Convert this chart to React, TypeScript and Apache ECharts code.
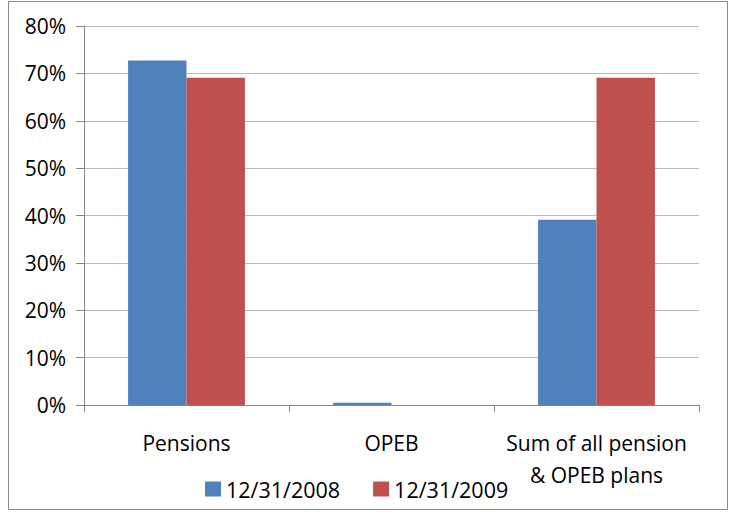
import React, { useEffect, useRef } from "react";
import * as echarts from "echarts";

const categories = ["Pensions", "OPEB", "Sum of all pension\n& OPEB plans"];
const seriesNames = ["12/31/2008", "12/31/2009"];
const values2008 = [72.7, 0.5, 39.1];
const values2009 = [69.1, 0, 69.1];
const yTicks = { min: 0, max: 80, interval: 10 };

const FONT = "'Open Sans', 'Noto Sans', sans-serif";

export default function App() {
  const ref = useRef<HTMLDivElement>(null);
  useEffect(() => {
    document.body.style.margin = "0";
    const chart = echarts.init(ref.current!, null, { renderer: "svg" });
    chart.setOption({
      animation: false,
      backgroundColor: "#ffffff",
      textStyle: { fontFamily: FONT },
      graphic: [
        {
          type: "rect",
          shape: { x: 8.5, y: 1.5, width: 719, height: 508 },
          style: { fill: "none", stroke: "#8c8c8c", lineWidth: 1 },
          silent: true,
        },
      ],
      grid: { left: 84, right: 31, top: 26, bottom: 107, containLabel: false },
      legend: {
        left: 200,
        top: 473,
        padding: 5,
        itemWidth: 16,
        itemHeight: 15,
        itemGap: 33,
        icon: "rect",
        textStyle: { fontSize: 21.5, color: "#000", fontFamily: FONT },
        data: seriesNames,
      },
      xAxis: {
        type: "category",
        data: categories,
        boundaryGap: true,
        axisLine: { lineStyle: { color: "#868686", width: 1 } },
        axisTick: { show: true, length: 7, alignWithLabel: false, lineStyle: { color: "#868686" } },
        axisLabel: {
          color: "#000",
          fontSize: 21,
          fontFamily: FONT,
          margin: 22,
          lineHeight: 32,
          interval: 0,
        },
        splitLine: { show: false },
      },
      yAxis: {
        type: "value",
        min: yTicks.min,
        max: yTicks.max,
        interval: yTicks.interval,
        axisLine: { show: true, lineStyle: { color: "#868686", width: 1 } },
        axisTick: { show: true, length: 8, lineStyle: { color: "#868686" } },
        axisLabel: {
          color: "#000",
          fontSize: 21,
          fontFamily: FONT,
          margin: 18,
          formatter: "{value}%",
        },
        splitLine: { show: true, lineStyle: { color: "#b9b9b9", width: 1 } },
      },
      series: [
        {
          name: seriesNames[0],
          type: "bar",
          data: values2008,
          barGap: "0%",
          barCategoryGap: "43%",
          itemStyle: { color: "#4F81BD" },
        },
        {
          name: seriesNames[1],
          type: "bar",
          data: values2009,
          barGap: "0%",
          barCategoryGap: "43%",
          itemStyle: { color: "#C0504D" },
        },
      ],
    });
    return () => chart.dispose();
  }, []);
  return <div ref={ref} style={{ width: 730, height: 512 }} />;
}
